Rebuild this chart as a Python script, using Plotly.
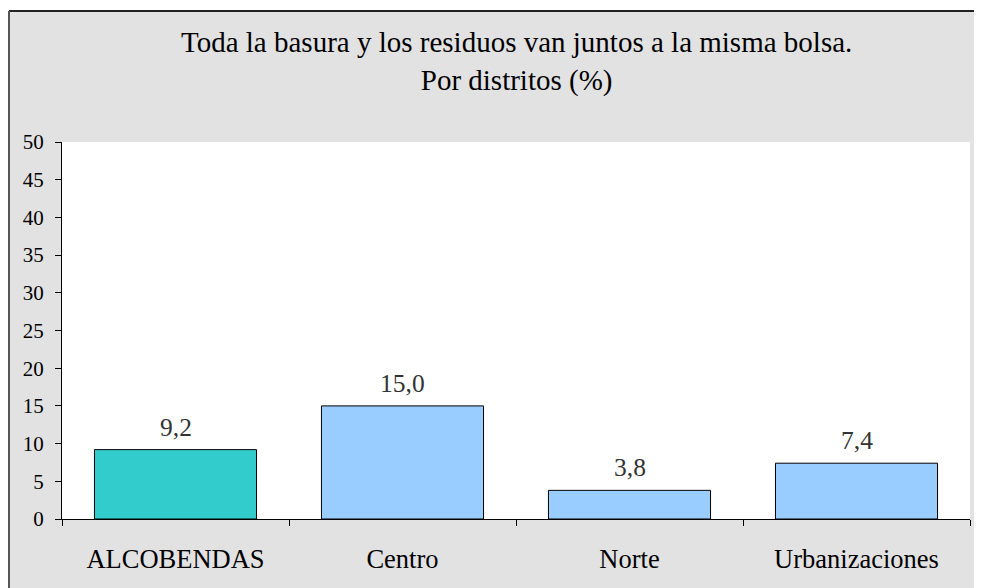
import plotly.graph_objects as go

categories = ["ALCOBENDAS", "Centro", "Norte", "Urbanizaciones"]
values = [9.2, 15.0, 3.8, 7.4]
value_labels = ["9,2", "15,0", "3,8", "7,4"]
bar_colors = ["#33CCCC", "#99CCFF", "#99CCFF", "#99CCFF"]
y_ticks = [0, 5, 10, 15, 20, 25, 30, 35, 40, 45, 50]

FONT = "Liberation Serif"

FW, FH = 974, 580
# plot area in figure pixels (page is offset by 8px body margin)
L, R, T, B = 54, 962, 134, 511
W, H = R - L, B - T

fig = go.Figure()
fig.add_trace(go.Bar(
    x=categories, y=values,
    marker=dict(color=bar_colors, line=dict(color="black", width=1)),
    hoverinfo="skip",
))

for c, v, t in zip(categories, values, value_labels):
    fig.add_annotation(x=c, y=v, text=t, showarrow=False, yanchor="bottom",
                       yshift=6, font=dict(family=FONT, size=25.5, color="#333333"))

fig.add_annotation(xref="paper", yref="paper", x=0.5, y=(B - 54) / H,
                   text="Toda la basura y los residuos van juntos a la misma bolsa.<br>Por distritos (%)",
                   showarrow=False, xanchor="center", yanchor="middle",
                   font=dict(family=FONT, size=29, color="black"))

# white strip above the chart-area border, and the border lines
fig.add_shape(type="rect", xref="paper", yref="paper", layer="below",
              x0=-L / W, x1=(FW - L) / W, y0=(B - 3) / H, y1=B / H,
              fillcolor="white", line=dict(width=0))
fig.add_shape(type="line", xref="paper", yref="paper", layer="below",
              x0=(1 - L) / W, x1=(FW - L) / W, y0=(B - 3) / H, y1=(B - 3) / H,
              line=dict(color="#222222", width=2))
fig.add_shape(type="line", xref="paper", yref="paper", layer="below",
              x0=(1 - L) / W, x1=(1 - L) / W, y0=(B - FH) / H, y1=(B - 3) / H,
              line=dict(color="#555555", width=2))

fig.update_layout(
    width=FW, height=FH,
    margin=dict(l=L, r=FW - R, t=T, b=FH - B),
    paper_bgcolor="#e2e2e2", plot_bgcolor="white",
    bargap=0.286, showlegend=False,
    font=dict(family=FONT, color="black"),
    xaxis=dict(showline=True, linecolor="black", linewidth=1, ticks="outside",
               tickson="boundaries", ticklen=6, tickcolor="black",
               tickfont=dict(family=FONT, size=26.5, color="black"),
               ticklabelstandoff=16, showgrid=False, fixedrange=True),
    yaxis=dict(range=[0, 50], tickvals=y_ticks, showline=True, linecolor="black",
               linewidth=1, ticks="outside", ticklen=6, tickcolor="black",
               tickfont=dict(family=FONT, size=21, color="black"),
               ticklabelstandoff=7, showgrid=False, zeroline=False, fixedrange=True),
)

fig.write_html("out.html")
